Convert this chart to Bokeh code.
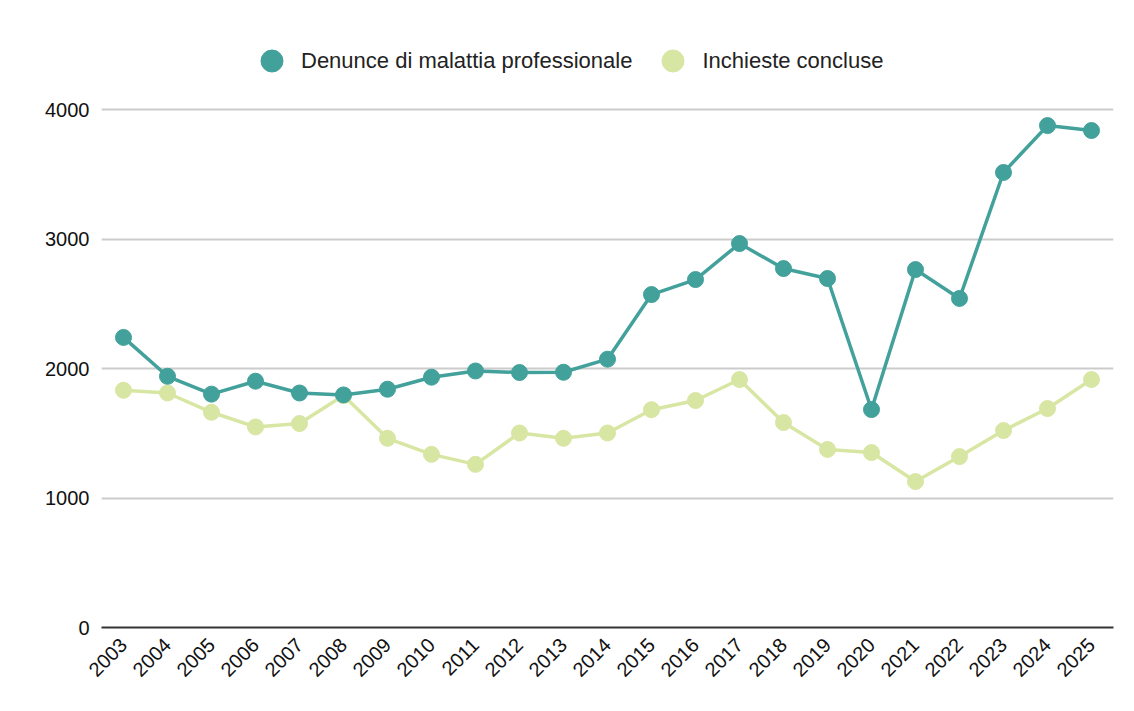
import math
from bokeh.plotting import figure
from bokeh.models import ColumnDataSource, Range1d, FixedTicker, Legend, LegendItem
from bokeh.embed import file_html
from bokeh.resources import INLINE

years = list(range(2003, 2026))
denunce = [2240, 1940, 1802, 1902, 1811, 1796, 1840, 1933, 1981, 1969, 1971, 2072,
           2571, 2687, 2965, 2772, 2695, 1683, 2764, 2541, 3514, 3876, 3838]
inchieste = [1832, 1811, 1662, 1549, 1575, 1791, 1461, 1337, 1260, 1502, 1461, 1502,
             1682, 1753, 1915, 1583, 1375, 1351, 1127, 1320, 1521, 1691, 1915]
y_ticks = [0, 1000, 2000, 3000, 4000]
series_names = ["Denunce di malattia professionale", "Inchieste concluse"]

TEAL = "#43a19b"
GREEN = "#d8e6a3"
FONT = "Liberation Sans"

src = ColumnDataSource(dict(x=years, d=denunce, i=inchieste))

p = figure(width=1126, height=703, output_backend="svg", toolbar_location=None,
           x_range=Range1d(2002.5, 2025.5), y_range=Range1d(0, 4687.5),
           min_border_left=101, min_border_right=13, min_border_top=20,
           min_border_bottom=76)
p.outline_line_color = None
p.background_fill_color = "white"
p.border_fill_color = "white"

# grid
p.xgrid.grid_line_color = None
p.ygrid.grid_line_color = "#cccccc"
p.ygrid.grid_line_width = 2
p.yaxis.ticker = FixedTicker(ticks=y_ticks)
p.xaxis.ticker = FixedTicker(ticks=years)

# y axis
p.yaxis.axis_line_color = None
p.yaxis.major_tick_line_color = None
p.yaxis.minor_tick_line_color = None
p.yaxis.major_tick_out = 0
p.yaxis.major_label_standoff = 12
p.yaxis.major_label_text_font = FONT
p.yaxis.major_label_text_font_size = "20px"
p.yaxis.major_label_text_color = "#111111"

# x axis
p.xaxis.axis_line_color = "#333333"
p.xaxis.axis_line_width = 2
p.xaxis.major_tick_line_color = None
p.xaxis.minor_tick_line_color = None
p.xaxis.major_tick_out = 0
p.xaxis.major_label_orientation = math.pi / 4
p.xaxis.major_label_standoff = 14
p.xaxis.major_label_text_font = FONT
p.xaxis.major_label_text_font_size = "20px"
p.xaxis.major_label_text_color = "#111111"

# series
p.line("x", "i", source=src, line_color=GREEN, line_width=3.5)
r_i = p.scatter("x", "i", source=src, size=16, fill_color=GREEN, line_color=GREEN)
p.line("x", "d", source=src, line_color=TEAL, line_width=3.5)
r_d = p.scatter("x", "d", source=src, size=16, fill_color=TEAL, line_color=TEAL)

legend = Legend(items=[LegendItem(label=series_names[0], renderers=[r_d]),
                       LegendItem(label=series_names[1], renderers=[r_i])],
                orientation="horizontal", location=(143, 539),
                glyph_width=55, glyph_height=55, label_standoff=2, spacing=13,
                padding=0, margin=0, border_line_color=None,
                background_fill_alpha=0,
                label_text_font=FONT, label_text_font_size="22px",
                label_text_color="#222222")
p.add_layout(legend, "center")

open("out.html", "w").write(file_html(p, INLINE))
